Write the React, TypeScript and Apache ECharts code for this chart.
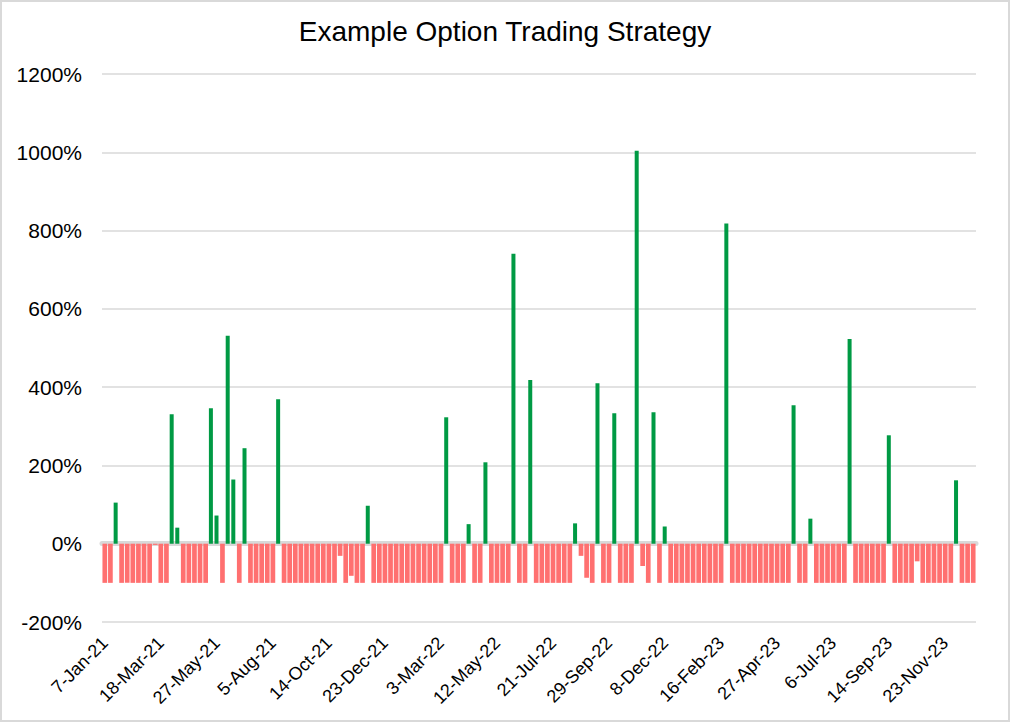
import React, { useEffect, useRef } from "react";
import * as echarts from "echarts";

const chartTitle = "Example Option Trading Strategy";

// Weekly observation dates (categories)
const dates = (
  "7-Jan-21 14-Jan-21 21-Jan-21 28-Jan-21 4-Feb-21 11-Feb-21 18-Feb-21 25-Feb-21 4-Mar-21 11-Mar-21 18-Mar-21 25-Mar-21 " +
  "1-Apr-21 8-Apr-21 15-Apr-21 22-Apr-21 29-Apr-21 6-May-21 13-May-21 20-May-21 27-May-21 3-Jun-21 10-Jun-21 17-Jun-21 24-Jun-21 " +
  "1-Jul-21 8-Jul-21 15-Jul-21 22-Jul-21 29-Jul-21 5-Aug-21 12-Aug-21 19-Aug-21 26-Aug-21 2-Sep-21 9-Sep-21 16-Sep-21 23-Sep-21 30-Sep-21 " +
  "7-Oct-21 14-Oct-21 21-Oct-21 28-Oct-21 4-Nov-21 11-Nov-21 18-Nov-21 25-Nov-21 2-Dec-21 9-Dec-21 16-Dec-21 23-Dec-21 30-Dec-21 " +
  "6-Jan-22 13-Jan-22 20-Jan-22 27-Jan-22 3-Feb-22 10-Feb-22 17-Feb-22 24-Feb-22 3-Mar-22 10-Mar-22 17-Mar-22 24-Mar-22 31-Mar-22 " +
  "7-Apr-22 14-Apr-22 21-Apr-22 28-Apr-22 5-May-22 12-May-22 19-May-22 26-May-22 2-Jun-22 9-Jun-22 16-Jun-22 23-Jun-22 30-Jun-22 " +
  "7-Jul-22 14-Jul-22 21-Jul-22 28-Jul-22 4-Aug-22 11-Aug-22 18-Aug-22 25-Aug-22 1-Sep-22 8-Sep-22 15-Sep-22 22-Sep-22 29-Sep-22 " +
  "6-Oct-22 13-Oct-22 20-Oct-22 27-Oct-22 3-Nov-22 10-Nov-22 17-Nov-22 24-Nov-22 1-Dec-22 8-Dec-22 15-Dec-22 22-Dec-22 29-Dec-22 " +
  "5-Jan-23 12-Jan-23 19-Jan-23 26-Jan-23 2-Feb-23 9-Feb-23 16-Feb-23 23-Feb-23 2-Mar-23 9-Mar-23 16-Mar-23 23-Mar-23 30-Mar-23 " +
  "6-Apr-23 13-Apr-23 20-Apr-23 27-Apr-23 4-May-23 11-May-23 18-May-23 25-May-23 1-Jun-23 8-Jun-23 15-Jun-23 22-Jun-23 29-Jun-23 " +
  "6-Jul-23 13-Jul-23 20-Jul-23 27-Jul-23 3-Aug-23 10-Aug-23 17-Aug-23 24-Aug-23 31-Aug-23 7-Sep-23 14-Sep-23 21-Sep-23 28-Sep-23 " +
  "5-Oct-23 12-Oct-23 19-Oct-23 26-Oct-23 2-Nov-23 9-Nov-23 16-Nov-23 23-Nov-23 30-Nov-23 7-Dec-23 14-Dec-23 21-Dec-23 28-Dec-23"
).split(" ");

// Weekly return of the strategy, in percent
const weeklyReturnPct = [
  -100, -100, 105, -100, -100, -100, -100, -100, -100, -3, -100, -100, 331,
  41, -100, -100, -100, -100, -100, 346, 72, -100, 531, 164, -100, 244,
  -100, -100, -100, -100, -100, 369, -100, -100, -100, -100, -100, -100, -100,
  -100, -100, -100, -31, -100, -82, -100, -100, 97, -100, -100, -100, -100,
  -100, -100, -100, -100, -100, -100, -100, -100, -100, 323, -100, -100, -100,
  50, -100, -100, 208, -100, -100, -100, -100, 741, -100, -100, 418, -100,
  -100, -100, -100, -100, -100, -100, 52, -31, -87, -100, 410, -100, -100,
  333, -100, -100, -100, 1004, -57, -100, 336, -100, 44, -100, -100, -100,
  -100, -100, -100, -100, -100, -100, -100, 818, -100, -100, -100, -100, -100,
  -100, -100, -100, -100, -100, -100, 354, -100, -100, 64, -100, -100, -100,
  -100, -100, -100, 523, -100, -100, -100, -100, -100, -100, 277, -100, -100,
  -100, -100, -45, -100, -100, -100, -100, -100, -100, 162, -100, -100, -100,
];

const yMin = -200;
const yMax = 1200;
const yStep = 200;

const FONT = "'Liberation Sans', Arial, sans-serif";

export default function App() {
  const ref = useRef<HTMLDivElement>(null);

  useEffect(() => {
    if (!ref.current) return;
    const chart = echarts.init(ref.current, null, { renderer: "svg" });
    const wins = weeklyReturnPct.map((v) => (v > 0 ? v : null));
    const losses = weeklyReturnPct.map((v) => (v < 0 ? v : null));

    chart.setOption({
      animation: false,
      backgroundColor: "#ffffff",
      textStyle: { fontFamily: FONT },
      title: {
        text: chartTitle,
        left: "center",
        top: 12,
        textStyle: { fontFamily: FONT, fontSize: 28, fontWeight: "normal", color: "#000" },
      },
      graphic: [
        {
          type: "rect",
          silent: true,
          shape: { x: 1, y: 1, width: 1008, height: 720 },
          style: { fill: "none", stroke: "#d9d9d9", lineWidth: 2 },
        },
      ],
      grid: { left: 102, right: 34, top: 74, bottom: 100, containLabel: false },
      xAxis: [
        {
          type: "category",
          data: dates,
          position: "bottom",
          axisLine: { show: false, onZero: false },
          axisTick: { show: false },
          splitLine: { show: false },
          axisLabel: {
            interval: 9,
            rotate: 45,
            fontSize: 18,
            color: "#000",
            fontFamily: FONT,
            margin: 18,
          },
        },
        {
          type: "category",
          data: dates,
          position: "bottom",
          axisLine: { show: true, onZero: true, lineStyle: { color: "#d9d9d9", width: 5 } },
          axisTick: { show: false },
          axisLabel: { show: false },
          splitLine: { show: false },
        },
      ],
      yAxis: {
        type: "value",
        min: yMin,
        max: yMax,
        interval: yStep,
        axisLine: { show: false },
        axisTick: { show: false },
        axisLabel: {
          formatter: (v: number) => `${v}%`,
          fontSize: 21,
          color: "#000",
          fontFamily: FONT,
          margin: 20,
        },
        splitLine: { lineStyle: { color: "#d9d9d9", width: 1.5 } },
      },
      series: [
        {
          name: "Win",
          type: "bar",
          xAxisIndex: 0,
          data: wins,
          barWidth: 4,
          barGap: "-100%",
          itemStyle: { color: "#009a44" },
        },
        {
          name: "Loss",
          type: "bar",
          xAxisIndex: 0,
          data: losses,
          barWidth: 4.7,
          barGap: "-100%",
          itemStyle: { color: "#ff7070" },
        },
      ],
    });

    return () => chart.dispose();
  }, []);

  return (
    <div
      ref={ref}
      style={{ position: "absolute", left: 0, top: 0, width: 1010, height: 722 }}
    />
  );
}
